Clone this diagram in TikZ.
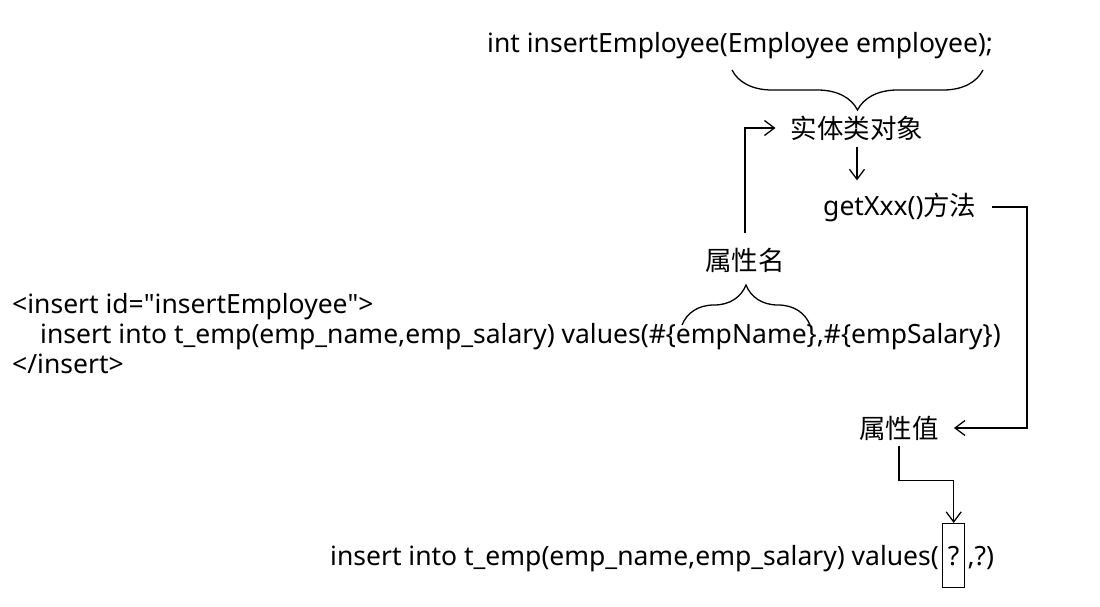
\documentclass[tikz,border=0pt]{standalone}
\usepackage{fontspec}
\setmainfont{Noto Sans}
\newfontfamily\cjk{Noto Sans CJK SC}
\usetikzlibrary{arrows.meta,decorations.pathreplacing,positioning}
\tikzset{
  txt/.style={inner sep=0pt,font=\fontsize{26.5}{30}\selectfont},
  zh/.style={inner sep=0pt,font=\cjk\fontsize{26.5}{30}\selectfont},
  link/.style={line width=1.3pt,-{Straight Barb[length=10pt,width=15pt]}},
  curly/.style={line width=1.3pt,decorate,decoration={brace,amplitude=40pt}},
  qmark/.style={draw,line width=1.3pt,inner sep=0pt,minimum width=22pt,minimum height=64pt,font=\fontsize{26.5}{30}\selectfont}
}
\begin{document}
\begin{tikzpicture}[x=1pt,y=-1pt]
  \useasboundingbox (0,0) rectangle (1100,606);
  % Draw the mapper method and the entity object
  \node[txt,anchor=base west] (sig) at (487,52) {int insertEmployee(Employee employee);};
  \draw[curly] (983,70) -- (732,70);
  \node[zh] (obj) at (857,128) {实体类对象};
  \node[txt,anchor=base west] (getter) at (823,215) {getXxx(){\cjk 方法}};
  % Draw the mapping statement
  \node[txt,anchor=base west] (xmlopen) at (12,313) {<insert id=\textquotedbl insertEmployee\textquotedbl>};
  \node[txt,anchor=base west] (xmlbody) at (40,343) {insert into t\_emp(emp\_name,emp\_salary) values(\#\{empName\},\#\{empSalary\})};
  \node[txt,anchor=base west] (xmlclose) at (12,373) {</insert>};
  \draw[curly] (682,325) -- (810,325);
  \node[zh] (pname) at (745,260) {属性名};
  \node[zh] (pval) at (899,428) {属性值};
  % Draw the resulting SQL
  \node[txt,anchor=base west] (sqlhead) at (330,565) {insert into t\_emp(emp\_name,emp\_salary) values(};
  \node[qmark,anchor=base west,xshift=3pt] (qbox) at (sqlhead.base east) {?};
  \node[txt,anchor=base west,xshift=2pt] (sqltail) at (qbox.base east) {,?)};
  % Draw the arrows
  \coordinate (rail) at (1027,0);
  \draw[link,shorten <=15pt,shorten >=15pt] (pname.north) |- (obj.west);
  \draw[link,shorten <=7pt,shorten >=12pt] (obj.south) -- (obj.south |- getter.north);
  \draw[link,shorten <=15pt,shorten >=15pt] (getter.east) -- (getter.east -| rail) |- (pval.east);
  \draw[link,shorten <=6pt] (pval.south) -- ++(0,40) -| (qbox.north);
\end{tikzpicture}
\end{document}
